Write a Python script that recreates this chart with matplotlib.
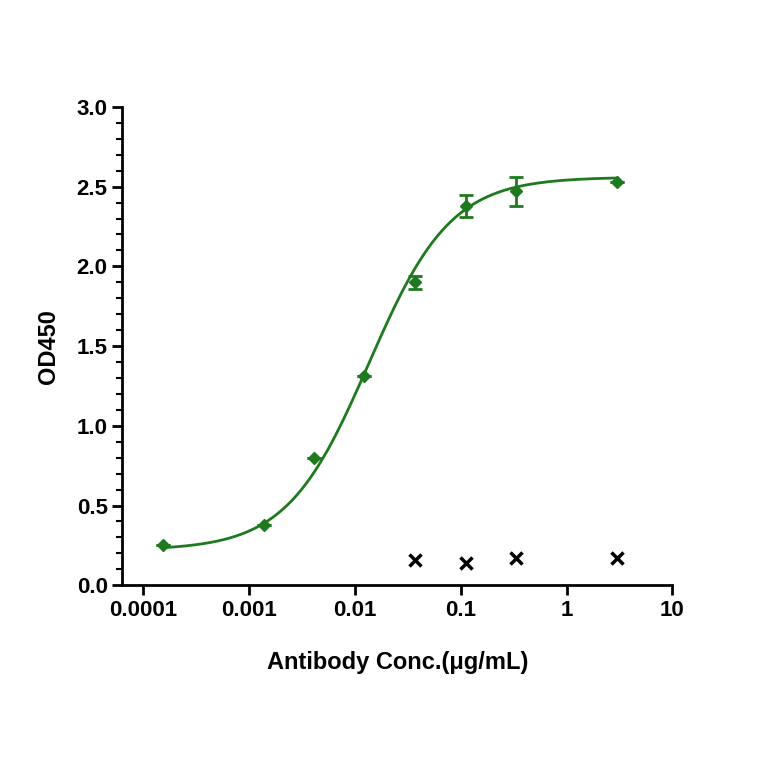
import numpy as np
import matplotlib
matplotlib.use("Agg")
import matplotlib.pyplot as plt
from matplotlib.ticker import MultipleLocator, FormatStrFormatter, NullLocator

conc = [0.000152, 0.00137, 0.0041, 0.0123, 0.037, 0.111, 0.333, 3.0]
od = [0.25, 0.38, 0.80, 1.31, 1.90, 2.38, 2.47, 2.53]
err = [0.0, 0.0, 0.0, 0.0, 0.04, 0.07, 0.09, 0.0]
neg_conc = [0.037, 0.111, 0.333, 3.0]
neg_od = [0.16, 0.14, 0.17, 0.17]
# 4PL fit parameters: bottom, top, EC50, Hill
fit = (0.22, 2.56, 0.0135, 1.12)

green = "#1f7a1f"
plt.rcParams['font.family'] = ['Liberation Sans', 'DejaVu Sans']
fig = plt.figure(figsize=(7.64, 7.64), dpi=100)
ax = fig.add_axes([0.16, 0.234, 0.72, 0.626])

b, t, ec, h = fit
xs = np.logspace(np.log10(conc[0]), np.log10(conc[-1]), 300)
ax.plot(xs, b + (t - b) / (1 + (ec / xs) ** h), color=green, lw=2)
ax.errorbar(conc, od, yerr=err, fmt='D', color=green, ms=6, capsize=5, elinewidth=2, capthick=2)
ax.plot(neg_conc, neg_od, 'x', color='black', ms=8, mew=2.5, ls='none')

ax.set_xscale('log')
ax.set_xlim(10**-4.2, 10)
ax.set_ylim(0, 3.0)
ax.set_xticks([1e-4, 1e-3, 1e-2, 1e-1, 1, 10])
ax.set_xticklabels(['0.0001', '0.001', '0.01', '0.1', '1', '10'])
ax.xaxis.set_minor_locator(NullLocator())
ax.yaxis.set_major_locator(MultipleLocator(0.5))
ax.yaxis.set_minor_locator(MultipleLocator(0.1))
ax.yaxis.set_major_formatter(FormatStrFormatter('%.1f'))
for s in ['top', 'right']:
    ax.spines[s].set_visible(False)
for s in ['left', 'bottom']:
    ax.spines[s].set_linewidth(2)
ax.tick_params(which='major', width=2, length=7, labelsize=16)
ax.tick_params(which='minor', width=1.5, length=4)
for lab in ax.get_xticklabels() + ax.get_yticklabels():
    lab.set_fontweight('bold')
ax.set_xlabel('Antibody Conc.(μg/mL)', fontsize=17, fontweight='bold', labelpad=22)
ax.set_ylabel('OD450', fontsize=17, fontweight='bold', labelpad=12)
fig.savefig('out.png', dpi=100)
